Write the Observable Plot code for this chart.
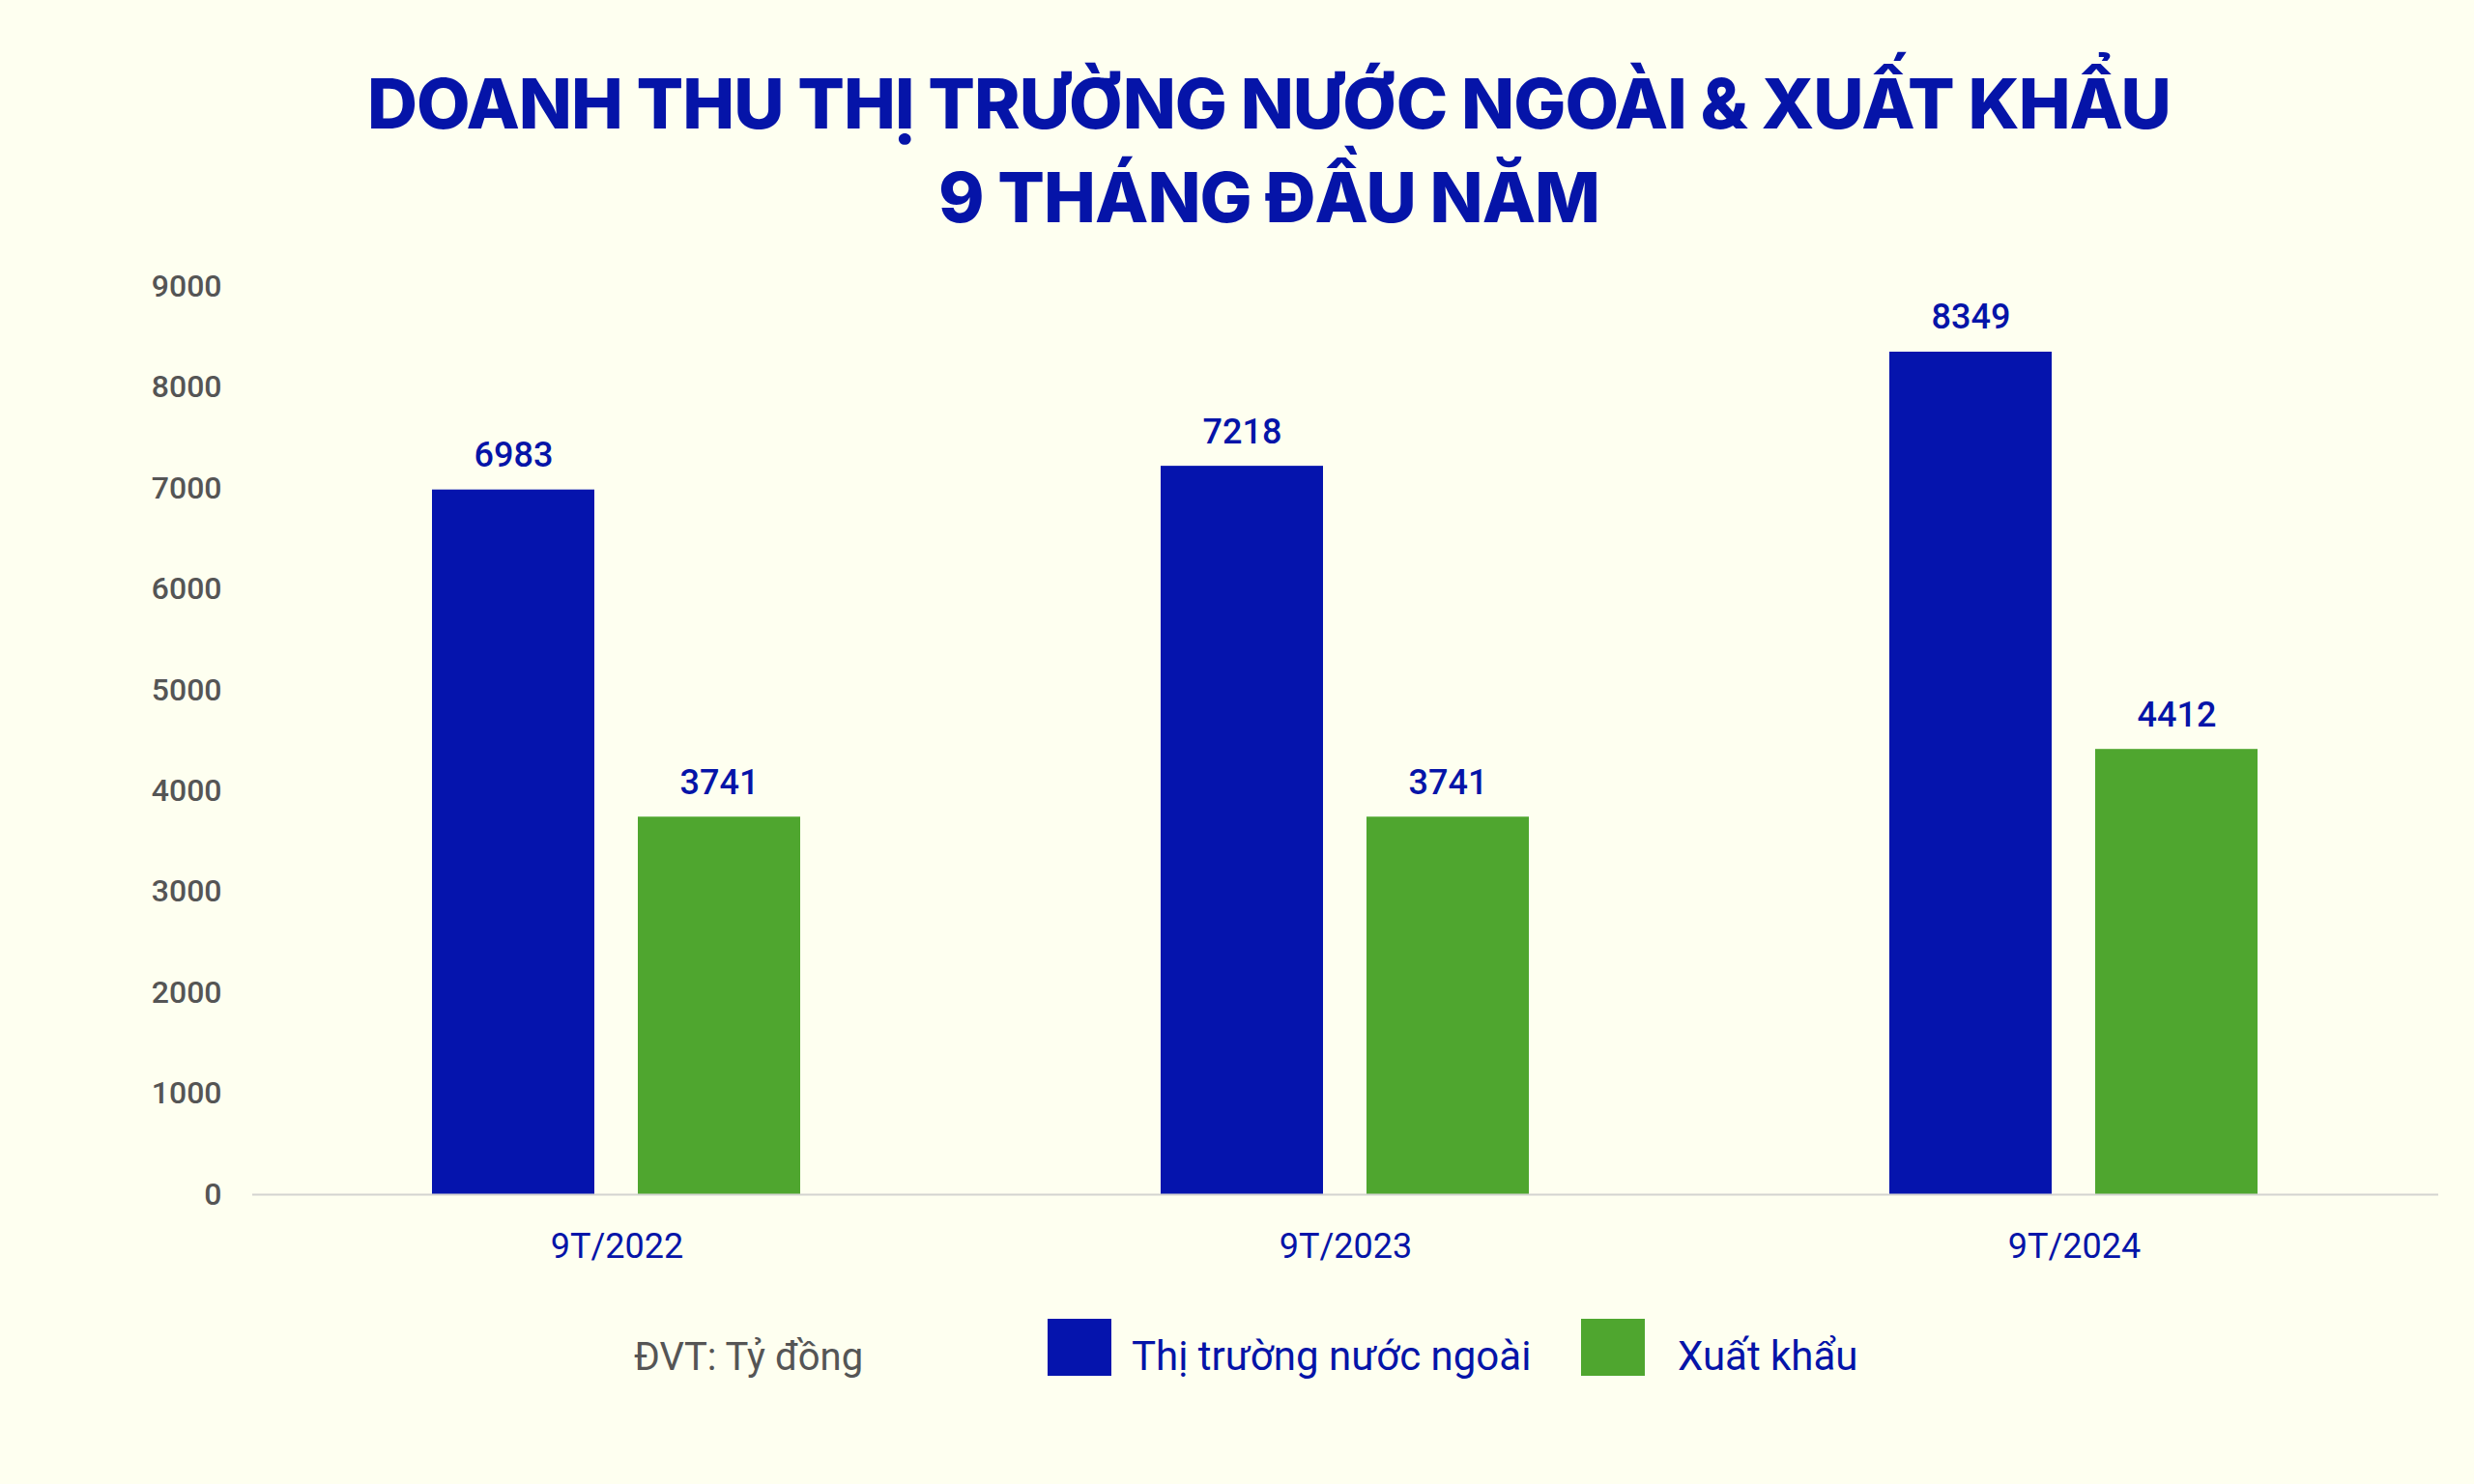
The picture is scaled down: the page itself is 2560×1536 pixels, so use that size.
<!DOCTYPE html>
<html>
<head>
<meta charset="utf-8">
<script src="https://cdn.jsdelivr.net/npm/d3@7"></script>
<script src="https://cdn.jsdelivr.net/npm/@observablehq/plot@0.6"></script>
<style>
  html, body { margin: 0; padding: 0; background: #fefff0; }
  #page { position: relative; width: 2560px; height: 1536px; background: #fefff0; overflow: hidden; font-family: Roboto, "Noto Sans", sans-serif; }
  #title { position: absolute; left: 33px; width: 2560px; top: 58px; text-align: center; color: #0514a8;
           font-family: Inter, "Noto Sans", sans-serif; font-weight: 800; font-size: 72px; line-height: 97px; letter-spacing: -1px; }
  #chart { position: absolute; left: 0; top: 260px; }
  #legend { position: absolute; top: 1365px; left: 0; width: 2560px; height: 60px; font-family: Roboto, sans-serif; }
  .unit { position: absolute; left: 656px; top: 16px; color: #555; font-size: 40px; }
  .sw { position: absolute; top: 0; width: 66px; height: 59px; }
  .lab { position: absolute; top: 14px; color: #0514a8; font-size: 42px; }
</style>
</head>
<body>
<div id="page">
  <div id="title">DOANH THU THỊ TRƯỜNG NƯỚC NGOÀI &amp; XUẤT KHẨU<br>9 THÁNG ĐẦU NĂM</div>
  <div id="chart"></div>
  <div id="legend"></div>
</div>
<script>
const periods = ["9T/2022", "9T/2023", "9T/2024"];
const foreignRevenue = [6983, 7218, 8349];
const exportRevenue = [3741, 3741, 4412];
const seriesNames = ["Thị trường nước ngoài", "Xuất khẩu"];
const seriesColors = ["#0514ad", "#4fa62f"];
const yTicks = [0, 1000, 2000, 3000, 4000, 5000, 6000, 7000, 8000, 9000];
const unitLabel = "ĐVT: Tỷ đồng";

const rows = [];
periods.forEach((p, i) => {
  rows.push({period: p, series: seriesNames[0], value: foreignRevenue[i]});
  rows.push({period: p, series: seriesNames[1], value: exportRevenue[i]});
});

const chart = Plot.plot({
  width: 2560,
  height: 1056,
  marginLeft: 261,
  marginRight: 37,
  marginTop: 36,
  marginBottom: 80,
  style: {background: "transparent", fontFamily: "Roboto, sans-serif"},
  fx: {domain: periods, padding: 0, label: null, tickSize: 0, tickPadding: 40},
  x: {domain: seriesNames, axis: null, paddingInner: 0.21, paddingOuter: 0.867},
  y: {domain: [0, 9000], ticks: yTicks, tickFormat: d => String(d), label: null, tickSize: 0, tickPadding: 32},
  color: {domain: seriesNames, range: seriesColors},
  marks: [
    Plot.barY(rows, {fx: "period", x: "series", y: "value", fill: "series"}),
    Plot.ruleY([0], {stroke: "#d4d4d0", strokeWidth: 2}),
    Plot.text(rows, {fx: "period", x: "series", y: "value", text: d => String(d.value),
      lineAnchor: "bottom", dy: -24, fill: "#0514a8", fontSize: 36, fontWeight: 500})
  ]
});
document.getElementById("chart").appendChild(chart);

// style axes
chart.querySelectorAll("[aria-label='y-axis tick label']").forEach(g => { g.setAttribute("fill", "#555"); g.setAttribute("font-size", 32); g.setAttribute("font-weight", 500); });
chart.querySelectorAll("[aria-label='fx-axis tick label']").forEach(g => { g.setAttribute("fill", "#0514a8"); g.setAttribute("font-size", 36); g.setAttribute("font-weight", 400); });

// legend
const lg = document.getElementById("legend");
const u = document.createElement("div"); u.className = "unit"; u.textContent = unitLabel; lg.appendChild(u);
const swX = [1084, 1636], labX = [1171, 1736];
seriesNames.forEach((s, i) => {
  const sw = document.createElement("div"); sw.className = "sw"; sw.style.left = swX[i] + "px"; sw.style.background = seriesColors[i]; lg.appendChild(sw);
  const lb = document.createElement("div"); lb.className = "lab"; lb.style.left = labX[i] + "px"; lb.textContent = s; lg.appendChild(lb);
});
</script>
</body>
</html>
